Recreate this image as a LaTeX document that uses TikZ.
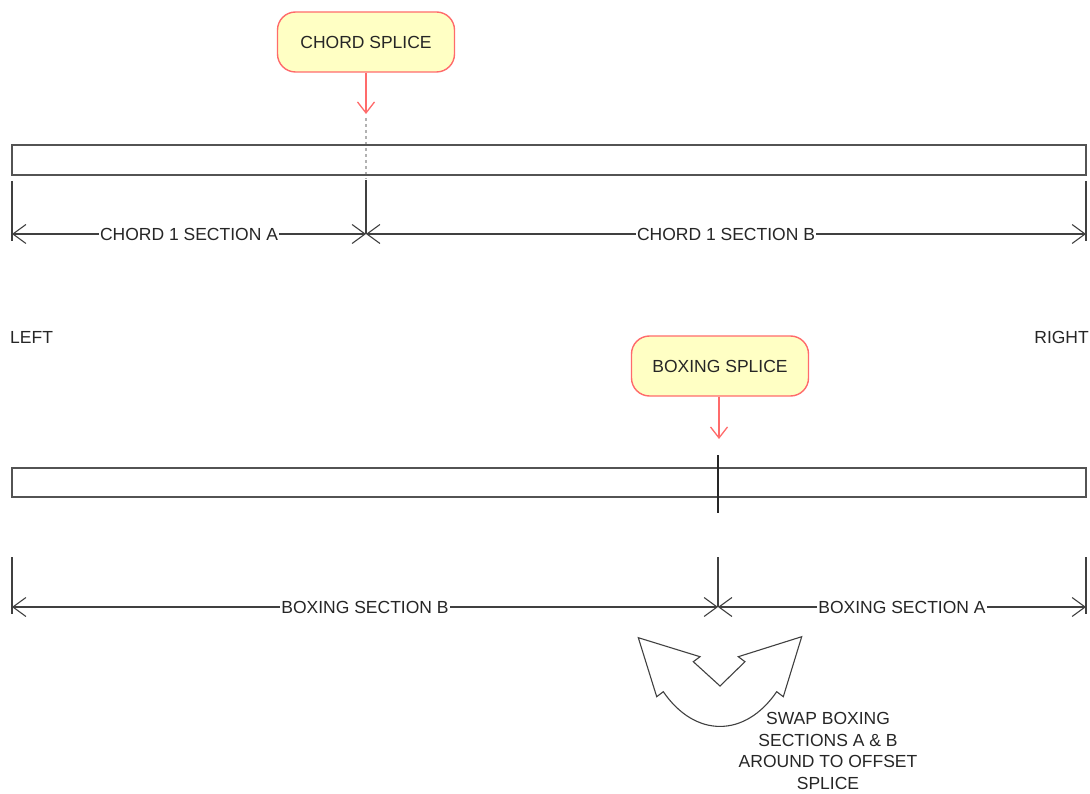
\documentclass[tikz,border=0pt]{standalone}
\usepackage{fontspec}
\setmainfont{Liberation Sans}
\usetikzlibrary{arrows.meta}
\definecolor{splred}{HTML}{FF6B6B}
\definecolor{splfill}{HTML}{FFFFC4}
\definecolor{lin}{HTML}{404040}
\begin{document}
\begin{tikzpicture}[x=1pt,y=-1pt,
  splicebox/.style={draw=splred,fill=splfill,line width=1.4pt,rounded corners=18pt,
    minimum width=177pt,minimum height=60pt,inner sep=0pt,font=\fontsize{17.5}{19}\selectfont,text=black!85},
  redarrow/.style={draw=splred,line width=1.3pt,-{Straight Barb[length=11pt,width=17pt,line width=1.3pt]}},
  beam/.style={draw=lin!90,line width=1.4pt},
  ext/.style={draw=lin,line width=1.1pt},
  dimline/.style={draw=lin,line width=1.1pt,{Straight Barb[length=13pt,width=19pt,line width=1.1pt]}-{Straight Barb[length=13pt,width=19pt,line width=1.1pt]}},
  dimlabel/.style={fill=white,inner sep=1pt,font=\fontsize{17.5}{19}\selectfont,text=black!85},
  plain/.style={font=\fontsize{17.5}{19}\selectfont,text=black!85,inner sep=0pt}]
\useasboundingbox (0,0) rectangle (1090,794);

% ---------- top (chord) ----------
\node[splicebox] (cs) at (366,42) {CHORD SPLICE};
\coordinate (csarr) at (366,114);
\draw[redarrow] (cs.south) -- (csarr);
\coordinate (dotA) at (366,118);
\coordinate (dotB) at (366,179);
\draw[gray!60,line width=1.3pt,dash pattern=on 3pt off 3pt] (dotA) -- (dotB);
\draw[beam] (12,145) rectangle (1086,175);

\coordinate (tl1) at (12,181);  \coordinate (tl2) at (12,241);
\coordinate (tm1) at (366,180); \coordinate (tm2) at (366,234);
\coordinate (tr1) at (1086,181);\coordinate (tr2) at (1086,241);
\draw[ext] (tl1) -- (tl2);
\draw[ext,line width=1.6pt] (tm1) -- (tm2);
\draw[ext] (tr1) -- (tr2);
\coordinate (dl) at (12,234);
\coordinate (dm) at (366,234);
\coordinate (dr) at (1086,234);
\draw[dimline] (dl) -- (dm) node[dimlabel,midway] {CHORD 1 SECTION A};
\draw[dimline] (dm) -- (dr) node[dimlabel,midway] {CHORD 1 SECTION B};

% ---------- side labels ----------
\node[plain,anchor=west] (left) at (10,337) {LEFT};
\node[plain,anchor=east] (right) at (1089,337) {RIGHT};

% ---------- bottom (boxing) ----------
\node[splicebox] (bs) at (720,366) {BOXING SPLICE};
\coordinate (bsarr) at (719,439);
\draw[redarrow] (bs.south -| bsarr) -- (bsarr);
\draw[beam] (12,468) rectangle (1086,497);
\coordinate (bv1) at (718,455); \coordinate (bv2) at (718,513);
\draw[draw=black!85,line width=1.2pt] (bv1) -- (bv2);

\coordinate (bl1) at (12,557);  \coordinate (bl2) at (12,614);
\coordinate (bm1) at (718,557); \coordinate (bm2) at (718,607);
\coordinate (br1) at (1086,557);\coordinate (br2) at (1086,614);
\draw[ext] (bl1) -- (bl2);
\draw[ext,line width=1.6pt] (bm1) -- (bm2);
\draw[ext] (br1) -- (br2);
\coordinate (el) at (12,607);
\coordinate (em) at (718,607);
\coordinate (er) at (1086,607);
\draw[dimline] (el) -- (em) node[dimlabel,midway] {BOXING SECTION B};
\draw[dimline] (em) -- (er) node[dimlabel,midway] {BOXING SECTION A};

% ---------- swap arrow ----------
\draw[lin,line width=1.1pt,line join=miter]
  (638.3,637.7) -- (700,656.7) -- (693.3,661.7) -- (720,686) -- (745,661.7)
  -- (738.3,656.7) -- (801.7,636.7) -- (783.3,696.7) -- (776.7,691.7)
  .. controls (745,738) and (695,738) .. (663.3,691.7)
  -- (656.7,696.7) -- cycle;

\node[plain,align=center,font=\fontsize{17.5}{21.8}\selectfont] (swap) at (828,751)
  {SWAP BOXING\\SECTIONS A \& B\\AROUND TO OFFSET\\SPLICE};
\end{tikzpicture}
\end{document}
